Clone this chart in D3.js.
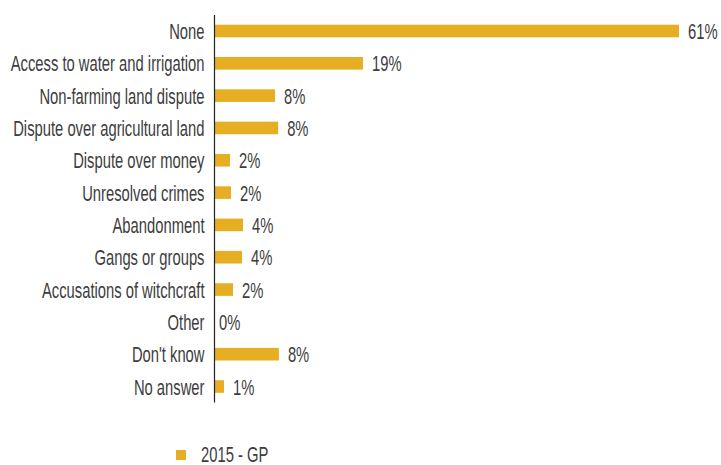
<!DOCTYPE html>
<html>
<head>
<meta charset="utf-8">
<script src="https://cdn.jsdelivr.net/npm/d3@7"></script>
<style>
  html, body { margin: 0; padding: 0; background: #ffffff; }
  svg { display: block; }
  text { font-family: "Liberation Sans Narrow", "Liberation Sans", Arial, sans-serif; fill: #3d3d3d; }
</style>
</head>
<body>
<svg id="chart" width="721" height="465"></svg>
<script>
// Reported sources of conflict, share of respondents (%)
const categories = [
  "None",
  "Access to water and irrigation",
  "Non-farming land dispute",
  "Dispute over agricultural land",
  "Dispute over money",
  "Unresolved crimes",
  "Abandonment",
  "Gangs or groups",
  "Accusations of witchcraft",
  "Other",
  "Don't know",
  "No answer"
];
const values2015 = [61.0, 19.45, 7.9, 8.3, 1.97, 2.1, 3.68, 3.55, 2.37, 0, 8.4, 1.18];
const seriesName = "2015 - GP";

const barColor = "#E6AE22";
const fontSize = 22.5;

const svg = d3.select("#chart");
const axisX = 214.5;
const plotTop = 15, plotBottom = 402.5;

// condense the face so the longest label spans 194px
const probe = svg.append("text")
  .style("font-size", fontSize + "px")
  .text("Access to water and irrigation");
const squeeze = 194 / probe.node().getComputedTextLength();
probe.remove();

const x = d3.scaleLinear()
  .domain([0, 61])
  .range([axisX + 0.5, 679]);

const y = d3.scaleBand()
  .domain(categories)
  .range([plotTop, plotBottom])
  .paddingInner(0.61)
  .paddingOuter(0.3);

const data = categories.map((c, i) => ({ cat: c, v: values2015[i] }));

// bars
svg.append("g")
  .selectAll("rect")
  .data(data)
  .join("rect")
  .attr("x", x(0))
  .attr("y", d => y(d.cat))
  .attr("width", d => Math.max(0, x(d.v) - x(0)))
  .attr("height", y.bandwidth())
  .attr("fill", barColor);

// vertical axis line
svg.append("line")
  .attr("x1", axisX).attr("x2", axisX)
  .attr("y1", plotTop).attr("y2", plotBottom)
  .attr("stroke", "#222")
  .attr("stroke-width", 1.2);

const baseline = d => y(d.cat) + y.bandwidth() / 2 + 8;

// category labels
svg.append("g")
  .selectAll("text")
  .data(data)
  .join("text")
  .attr("transform", d => `translate(${axisX - 10},${baseline(d)}) scale(${squeeze},1)`)
  .attr("text-anchor", "end")
  .style("font-size", fontSize + "px")
  .text(d => d.cat);

// value labels
svg.append("g")
  .selectAll("text")
  .data(data)
  .join("text")
  .attr("transform", d => `translate(${x(d.v) + (d.v === 0 ? 4 : 9)},${baseline(d)}) scale(${squeeze},1)`)
  .attr("text-anchor", "start")
  .style("font-size", fontSize + "px")
  .text(d => d3.format(".0f")(d.v) + "%");

// legend
const legend = svg.append("g").attr("transform", "translate(176,450)");
legend.append("rect")
  .attr("width", 10).attr("height", 10)
  .attr("fill", barColor);
legend.append("text")
  .attr("transform", `translate(25,12) scale(${squeeze},1)`)
  .style("font-size", fontSize + "px")
  .text(seriesName);
</script>
</body>
</html>
